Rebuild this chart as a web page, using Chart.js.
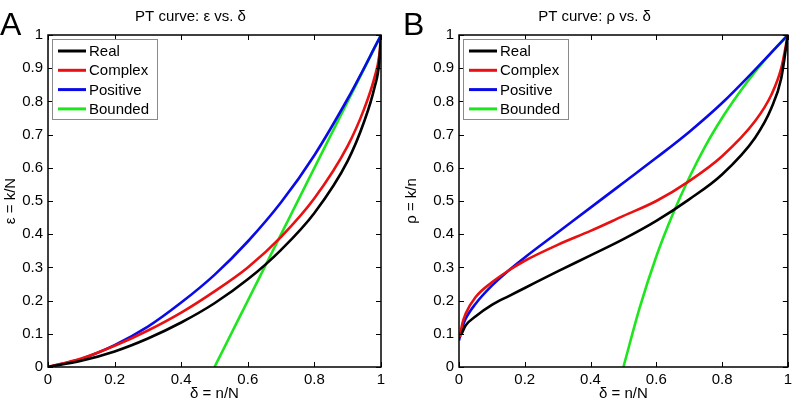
<!DOCTYPE html>
<html>
<head>
<meta charset="utf-8">
<script src="https://cdn.jsdelivr.net/npm/chart.js@4.4.1/dist/chart.umd.min.js"></script>
<style>
    html, body { margin: 0; padding: 0; background: #fff; }
    #wrap { position: relative; width: 796px; height: 403px; }
    .panel { position: absolute; top: 0; width: 398px; height: 403px; }
</style>
</head>
<body>
<div id="wrap">
    <div class="panel" style="left:0"><canvas id="chartA" width="398" height="403"></canvas></div>
    <div class="panel" style="left:398px"><canvas id="chartB" width="398" height="403"></canvas></div>
</div>
<script>
// tick values (both panels)
const xTicks = [0, 0.2, 0.4, 0.6, 0.8, 1];
const yTicks = [0, 0.1, 0.2, 0.3, 0.4, 0.5, 0.6, 0.7, 0.8, 0.9, 1];

const seriesNames = ['Real', 'Complex', 'Positive', 'Bounded'];
const seriesColors = ['#000000', '#e81010', '#0a0ae6', '#1ee61e'];

// panel A : epsilon = k/N vs delta = n/N
const deltaA = [0, 0.1, 0.2, 0.3, 0.4, 0.5, 0.6, 0.7, 0.8, 0.9, 0.95, 0.98, 0.995, 1];
const realA = [0, 0.019, 0.047, 0.086, 0.134, 0.192, 0.264, 0.353, 0.464, 0.621, 0.741, 0.84, 0.92, 1];
const complexA = [0, 0.0255, 0.064, 0.11, 0.164, 0.228, 0.3, 0.392, 0.508, 0.666, 0.779, 0.87, 0.94, 1];
const positiveA = [0, 0.0245, 0.066, 0.1215, 0.194, 0.2775, 0.378, 0.496, 0.638, 0.808, 0.902, 0.961, 0.99, 1];
const boundedDeltaA = [0.5, 1];
const boundedA = [0, 1];

// panel B : rho = k/n vs delta = n/N
const realDeltaB = [0.008, 0.02, 0.05, 0.1, 0.15, 0.2, 0.3, 0.4, 0.5, 0.6, 0.7, 0.8, 0.9, 0.95, 0.98, 1];
const realB = [0.1, 0.125, 0.152, 0.187, 0.213, 0.238, 0.288, 0.336, 0.385, 0.44, 0.505, 0.58, 0.69, 0.78, 0.87, 1];
const complexDeltaB = [0.003, 0.01, 0.02, 0.05, 0.1, 0.15, 0.2, 0.3, 0.4, 0.5, 0.6, 0.7, 0.8, 0.9, 0.95, 0.98, 1];
const complexB = [0.09, 0.13, 0.16, 0.21, 0.255, 0.29, 0.32, 0.368, 0.41, 0.455, 0.5, 0.56, 0.635, 0.74, 0.82, 0.9, 1];
const positiveDeltaB = [0, 0.01, 0.02, 0.05, 0.1, 0.15, 0.2, 0.3, 0.4, 0.5, 0.6, 0.7, 0.8, 0.9, 1];
const positiveB = [0.08, 0.12, 0.145, 0.19, 0.245, 0.29, 0.33, 0.405, 0.48, 0.555, 0.63, 0.708, 0.795, 0.895, 1];
const boundedDeltaB = [0.5, 0.55, 0.6, 0.65, 0.7, 0.75, 0.8, 0.85, 0.9, 0.95, 1];
const boundedB = [0, 0.18, 0.333, 0.46, 0.57, 0.667, 0.75, 0.823, 0.889, 0.947, 1];

const FONT = '"Liberation Sans", Arial, Helvetica, sans-serif';

function toPoints(xs, ys) {
    return xs.map(function (x, i) { return { x: x, y: ys[i] }; });
}

function makeDataset(idx, xs, ys) {
    return {
        label: seriesNames[idx],
        data: toPoints(xs, ys),
        borderColor: seriesColors[idx],
        backgroundColor: seriesColors[idx],
        borderWidth: 2.6,
        pointRadius: 0,
        fill: false,
        cubicInterpolationMode: 'monotone',
    };
}

// inward ticks on all four sides + box + legend + panel letter
const matlabAxes = {
    id: 'matlabAxes',
    afterDatasetsDraw: function (chart, args, opts) {
        const ctx = chart.ctx;
        const a = chart.chartArea;
        const xs = chart.scales.x;
        const ys = chart.scales.y;
        const tl = 5;
        ctx.save();
        ctx.strokeStyle = '#000';
        ctx.lineWidth = 1;
        ctx.beginPath();
        xTicks.forEach(function (v) {
            const px = Math.round(xs.getPixelForValue(v)) + 0.5;
            ctx.moveTo(px, a.bottom); ctx.lineTo(px, a.bottom - tl);
            ctx.moveTo(px, a.top); ctx.lineTo(px, a.top + tl);
        });
        yTicks.forEach(function (v) {
            const py = Math.round(ys.getPixelForValue(v)) + 0.5;
            ctx.moveTo(a.left, py); ctx.lineTo(a.left + tl, py);
            ctx.moveTo(a.right, py); ctx.lineTo(a.right - tl, py);
        });
        ctx.stroke();
        ctx.lineWidth = 1.5;
        ctx.strokeRect(a.left, a.top, a.right - a.left, a.bottom - a.top);

        // legend box
        const bx = a.left + 4, by = a.top + 4, bw = 105, bh = 80;
        ctx.fillStyle = '#fff';
        ctx.fillRect(bx, by, bw, bh);
        ctx.strokeStyle = '#8a8a8a';
        ctx.lineWidth = 1;
        ctx.strokeRect(bx + 0.5, by + 0.5, bw, bh);
        ctx.font = '15px ' + FONT;
        ctx.textBaseline = 'middle';
        ctx.textAlign = 'left';
        chart.data.datasets.forEach(function (ds, i) {
            const cy = by + 12 + i * 19.3;
            ctx.strokeStyle = ds.borderColor;
            ctx.lineWidth = 3;
            ctx.beginPath();
            ctx.moveTo(bx + 6, cy); ctx.lineTo(bx + 34, cy);
            ctx.stroke();
            ctx.fillStyle = '#000';
            ctx.fillText(ds.label, bx + 37, cy + 1);
        });

        // panel letter
        ctx.font = '32px ' + FONT;
        ctx.textBaseline = 'alphabetic';
        ctx.fillStyle = '#000';
        ctx.fillText(opts.letter, opts.letterX, 35);
        ctx.restore();
    }
};

function makeChart(canvasId, datasets, cfg) {
    const canvas = document.getElementById(canvasId);
    return new Chart(canvas.getContext('2d'), {
        type: 'line',
        data: { datasets: datasets },
        options: {
            responsive: false,
            animation: false,
            layout: { padding: { left: 0, right: cfg.padRight, top: 0, bottom: 0 } },
            plugins: {
                legend: { display: false },
                tooltip: { enabled: false },
                title: {
                    display: true,
                    text: cfg.title,
                    color: '#000',
                    font: { family: FONT, size: 15, weight: 'normal', lineHeight: 1.2 },
                    padding: { top: 8, bottom: 9 },
                },
                matlabAxes: { letter: cfg.letter, letterX: cfg.letterX },
            },
            scales: {
                x: {
                    type: 'linear',
                    min: 0, max: 1,
                    grid: { display: false, drawTicks: false },
                    border: { display: false },
                    afterBuildTicks: function (s) { s.ticks = xTicks.map(function (v) { return { value: v }; }); },
                    afterFit: function (s) { s.height = 36; },
                    ticks: {
                        color: '#000', padding: 4, maxRotation: 0,
                        font: { family: FONT, size: 15 },
                        callback: function (v) { return String(v); },
                    },
                    title: {
                        display: true, text: 'δ = n/N', color: '#000',
                        font: { family: FONT, size: 15 }, padding: { top: 0, bottom: 0 },
                    },
                },
                y: {
                    type: 'linear',
                    min: 0, max: 1,
                    grid: { display: false, drawTicks: false },
                    border: { display: false },
                    afterBuildTicks: function (s) { s.ticks = yTicks.map(function (v) { return { value: v }; }); },
                    afterFit: function (s) { s.width = cfg.yWidth; },
                    ticks: {
                        color: '#000', padding: 5,
                        font: { family: FONT, size: 15 },
                        callback: function (v) { return String(v); },
                    },
                    title: {
                        display: true, text: cfg.yTitle, color: '#000',
                        font: { family: FONT, size: 15 }, padding: { top: cfg.yTitlePad, bottom: 0 },
                    },
                },
            },
        },
        plugins: [matlabAxes],
    });
}

makeChart('chartA', [
    makeDataset(0, deltaA, realA),
    makeDataset(1, deltaA, complexA),
    makeDataset(2, deltaA, positiveA),
    makeDataset(3, boundedDeltaA, boundedA),
], { title: 'PT curve: ε vs. δ', yTitle: 'ε = k/N', letter: 'A', letterX: 0, yWidth: 48, padRight: 17, yTitlePad: 2 });

makeChart('chartB', [
    makeDataset(0, realDeltaB, realB),
    makeDataset(1, complexDeltaB, complexB),
    makeDataset(2, positiveDeltaB, positiveB),
    makeDataset(3, boundedDeltaB, boundedB),
], { title: 'PT curve: ρ vs. δ', yTitle: 'ρ = k/n', letter: 'B', letterX: 5, yWidth: 61, padRight: 5, yTitlePad: 5 });
</script>
</body>
</html>
